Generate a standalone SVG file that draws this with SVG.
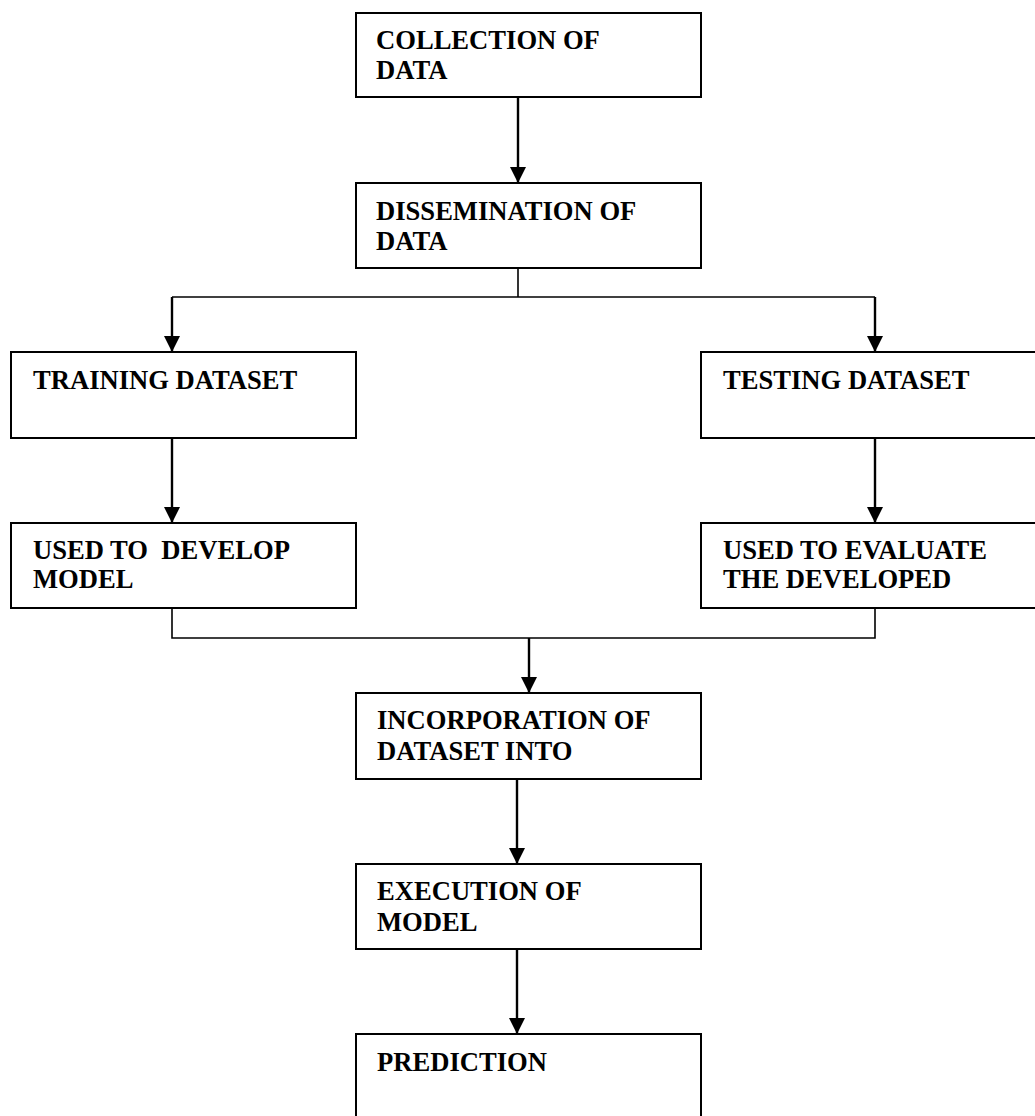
<svg xmlns="http://www.w3.org/2000/svg" width="1035" height="1116" viewBox="0 0 1035 1116">
  <style>
    .box { fill: #ffffff; stroke: #000000; stroke-width: 2; }
    .lbl { font-family: "Liberation Serif", "Times New Roman", serif; font-weight: bold; font-size: 26.6px; fill: #000000; }
    .wire { fill: none; stroke: #000000; stroke-width: 1.6; }
    .arrow { fill: none; stroke: #000000; stroke-width: 2.4; marker-end: url(#head); }
  </style>
  <defs>
    <marker id="head" markerUnits="userSpaceOnUse" markerWidth="16" markerHeight="16" viewBox="0 0 16 16" refX="16" refY="8" orient="auto">
      <path d="M0,0 L16,8 L0,16 Z" fill="#000000"/>
    </marker>
  </defs>
  <rect width="1035" height="1116" fill="#ffffff"/>

  <!-- process steps -->
  <g id="collection">
    <rect class="box" x="356" y="13" width="345" height="84"/>
    <text class="lbl" x="376" y="49">COLLECTION OF</text>
    <text class="lbl" x="376" y="79">DATA</text>
  </g>
  <g id="dissemination">
    <rect class="box" x="356" y="183" width="345" height="85"/>
    <text class="lbl" x="376" y="220">DISSEMINATION OF</text>
    <text class="lbl" x="376" y="250">DATA</text>
  </g>
  <g id="training">
    <rect class="box" x="11" y="352" width="345" height="86"/>
    <text class="lbl" x="33" y="389">TRAINING DATASET</text>
  </g>
  <g id="testing">
    <rect class="box" x="701" y="352" width="345" height="86"/>
    <text class="lbl" x="723" y="389">TESTING DATASET</text>
  </g>
  <g id="develop">
    <rect class="box" x="11" y="523" width="345" height="85"/>
    <text class="lbl" x="33" y="559" xml:space="preserve">USED TO  DEVELOP</text>
    <text class="lbl" x="33" y="588">MODEL</text>
  </g>
  <g id="evaluate">
    <rect class="box" x="701" y="523" width="345" height="85"/>
    <text class="lbl" x="723" y="559">USED TO EVALUATE</text>
    <text class="lbl" x="723" y="588">THE DEVELOPED</text>
  </g>
  <g id="incorporation">
    <rect class="box" x="356" y="693" width="345" height="86"/>
    <text class="lbl" x="377" y="729">INCORPORATION OF</text>
    <text class="lbl" x="377" y="760">DATASET INTO</text>
  </g>
  <g id="execution">
    <rect class="box" x="356" y="864" width="345" height="85"/>
    <text class="lbl" x="377" y="900">EXECUTION OF</text>
    <text class="lbl" x="377" y="931">MODEL</text>
  </g>
  <g id="prediction">
    <rect class="box" x="356" y="1034" width="345" height="100"/>
    <text class="lbl" x="377" y="1071">PREDICTION</text>
  </g>

  <!-- connectors -->
  <g id="connectors">
    <line class="arrow" x1="518" y1="97" x2="518" y2="183"/>
    <polyline class="wire" points="518,268 518,297"/>
    <line class="wire" x1="172" y1="297" x2="875" y2="297"/>
    <line class="arrow" x1="172" y1="297" x2="172" y2="352"/>
    <line class="arrow" x1="875" y1="297" x2="875" y2="352"/>
    <line class="arrow" x1="172" y1="438" x2="172" y2="523"/>
    <line class="arrow" x1="875" y1="438" x2="875" y2="523"/>
    <polyline class="wire" points="172,608 172,638 875,638 875,608"/>
    <line class="arrow" x1="529" y1="638" x2="529" y2="693"/>
    <line class="arrow" x1="517" y1="779" x2="517" y2="864"/>
    <line class="arrow" x1="517" y1="949" x2="517" y2="1034"/>
  </g>
</svg>
